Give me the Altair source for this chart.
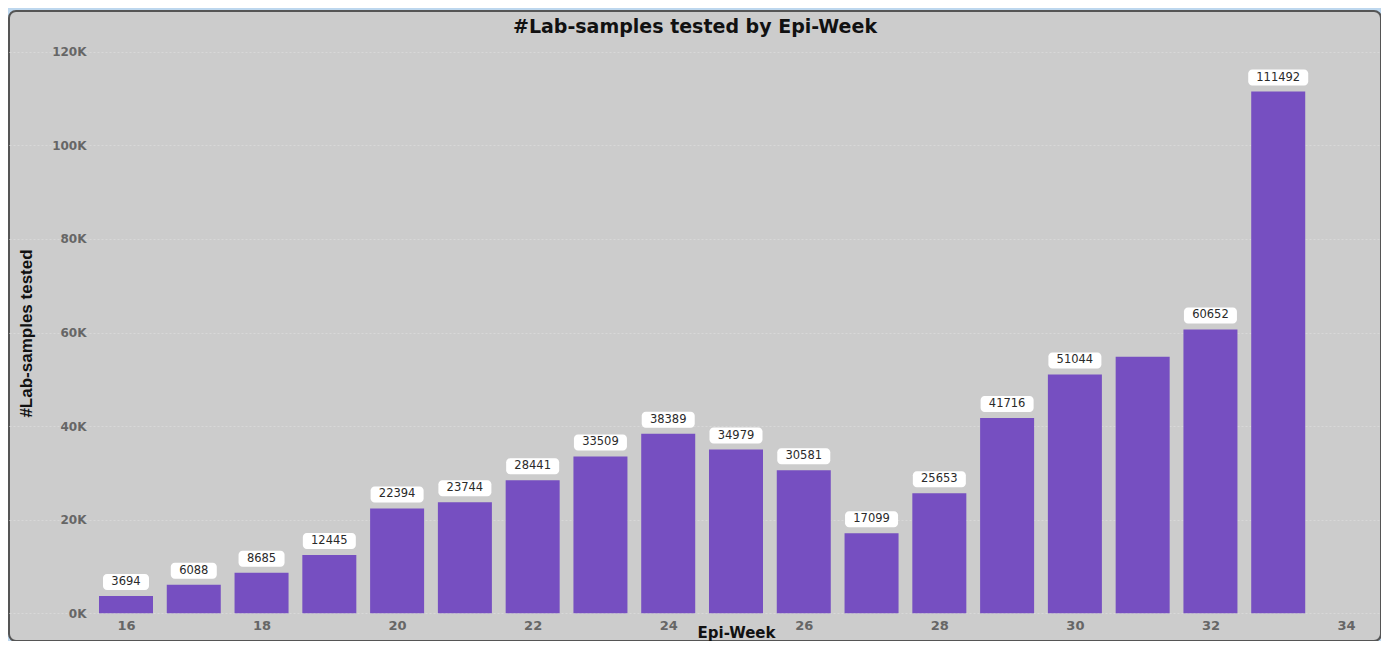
import altair as alt
import pandas as pd

weeks = [16, 17, 18, 19, 20, 21, 22, 23, 24, 25, 26, 27, 28, 29, 30, 31, 32, 33]
samples = [3694, 6088, 8685, 12445, 22394, 23744, 28441, 33509, 38389, 34979,
           30581, 17099, 25653, 41716, 51044, 54800, 60652, 111492]
show_label = [True] * 15 + [False] + [True, True]
y_ticks = [0, 20000, 40000, 60000, 80000, 100000, 120000]
x_ticks = [16, 18, 20, 22, 24, 26, 28, 30, 32, 34]

df = pd.DataFrame({"week": weeks, "samples": samples, "show": show_label})

W, H = 1372, 630
x_dom = [14.2738, 34.5164]
y_dom = [-5919, 128697]
BAR = "#764fc1"

x_enc = alt.X(
    "week:Q",
    scale=alt.Scale(domain=x_dom, nice=False, zero=False, padding=0),
    axis=alt.Axis(
        values=x_ticks, format="d", title="Epi-Week", grid=False, domain=False, ticks=False,
        offset=-28, labelPadding=6, labelFont="DejaVu Sans", labelFontSize=13,
        labelFontWeight="bold", labelColor="#666666",
        titleFont="DejaVu Sans", titleFontSize=15, titleFontWeight="bold",
        titleColor="#111111", titleX=727, titleY=24, titleBaseline="alphabetic",
    ),
)
y_enc = alt.Y(
    "samples:Q",
    scale=alt.Scale(domain=y_dom, nice=False, zero=False),
    axis=alt.Axis(
        values=y_ticks, title="#Lab-samples tested", labelExpr="datum.value / 1000 + 'K'",
        grid=True, gridColor="#d8d8d8", gridDash=[2, 2], gridWidth=1,
        domain=False, ticks=False, offset=-83, labelPadding=6,
        labelFont="DejaVu Sans", labelFontSize=12, labelFontWeight="bold",
        labelColor="#666666",
        titleFont="Liberation Sans", titleFontSize=17, titleFontWeight="bold",
        titleColor="#111111", titleX=-66, titleY=322, titleAngle=270,
        titleAlign="center", titleBaseline="middle",
    ),
)

bars = alt.Chart(df).mark_bar(color=BAR, width=54).encode(x=x_enc, y=y_enc)

lab = alt.Chart(df).transform_filter("datum.show").transform_calculate(
    txt="toString(datum.samples)",
    boxw="length(toString(datum.samples)) * 7 + 18",
)

boxes = lab.mark_bar(color="white", cornerRadius=4, yOffset=-22, y2Offset=-6).encode(
    x="week:Q",
    y="samples:Q",
    y2="samples:Q",
    size=alt.Size("boxw:Q", scale=None, legend=None),
)

texts = lab.mark_text(
    font="DejaVu Sans", fontSize=11.5, color="#2a2a2a", baseline="middle", dy=-14
).encode(x="week:Q", y="samples:Q", text="txt:N")

chart = alt.layer(bars, boxes, texts).properties(
    width=W,
    height=H,
    title=alt.TitleParams(
        "#Lab-samples tested by Epi-Week", font="DejaVu Sans", fontSize=19,
        fontWeight="bold", color="#111111", anchor="middle", frame="group",
        offset=-26,
    ),
    background="#bdd7ee",
    padding={"left": 1, "top": 3, "right": 0, "bottom": 0},
    autosize=alt.AutoSizeParams(type="none"),
).configure_view(
    fill="#cccccc", stroke="#555555", strokeWidth=2, cornerRadius=7
)

chart.save("out.html", embed_options={"renderer": "svg", "actions": False})
